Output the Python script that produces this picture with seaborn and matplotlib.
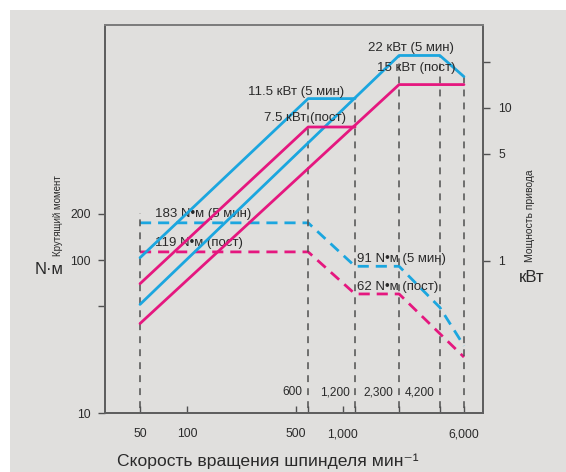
import matplotlib
matplotlib.use("Agg")
import matplotlib.pyplot as plt
import seaborn as sns
import numpy as np
import pandas as pd
from matplotlib.patches import Rectangle

# ---------------- data ----------------
# power curves (kW) vs spindle speed (min^-1)
p5_a_x = [50, 600, 1200]
p5_a_y = [1.05, 11.5, 11.5]
p5_b_x = [50, 2300, 4200, 6000]
p5_b_y = [0.52, 22, 22, 16]
pc_a_x = [50, 600, 1200]
pc_a_y = [0.71, 7.5, 7.5]
pc_b_x = [50, 2300, 6000]
pc_b_y = [0.39, 14.2, 14.2]
# torque curves (N·m)
t5_x = [50, 600, 1200, 2300, 4200, 6000]
t5_y = [175, 175, 91, 91, 49, 27.5]
tc_x = [50, 600, 1200, 2300, 6000]
tc_y = [113, 113, 60, 60, 23.2]
# vertical guide lines (speed, top in kW)
guide_x = [50, 600, 1200, 2300, 4200, 6000]
guide_top = [2.07, 11.5, 11.5, 22, 22, 16]

x_ticks = [50, 100, 500, 600, 1000, 1200, 2300, 4200, 6000]
x_ticklabels = ["50", "100", "500", "", "1,000", "", "", "", "6,000"]
inner_x = [600, 1200, 2300, 4200]
inner_labels = ["600", "1,200", "2,300", "4,200"]
yl_ticks = [10, 50, 100, 200]
yl_ticklabels = ["10", "", "100", "200"]
yr_ticks = [1, 5, 10, 20]
yr_ticklabels = ["1", "5", "10", ""]

BLUE = "#1ba6df"
MAG = "#e5177f"
GRAY = "#505050"
BG = "#e0dfdd"
TXT = "#2a2a2a"

sns.set_theme(style="white")
plt.rcParams['font.family'] = ['Liberation Sans', 'DejaVu Sans']

W, H = 566, 472
fig = plt.figure(figsize=(W / 100, H / 100), dpi=100)
fig.patch.set_facecolor("white")
fig.patches.append(Rectangle((10 / W, 0), 1 - 10 / W, (H - 10) / H,
                             transform=fig.transFigure, facecolor=BG,
                             edgecolor="none", zorder=-10))

ax = fig.add_axes([105 / W, 59 / H, (483 - 105) / W, (413 - 25) / H])
ax.set_facecolor(BG)
ax.set_xscale("log")
ax.set_yscale("log")
ax.set_xlim(29.8, 7950)
ax.set_ylim(10, 3438)

ax2 = ax.twinx()
ax2.set_yscale("log")
ax2.set_ylim(0.1015, 34.8)

# guide lines
ax2.vlines(guide_x, 0.05, guide_top, colors=GRAY, linewidth=1.1,
           linestyles=(0, (4.5, 4)), zorder=1)

# torque dashed curves
sns.lineplot(x=t5_x, y=t5_y, ax=ax, color=BLUE, linewidth=2.0,
             linestyle=(0, (4, 2.5)), estimator=None, sort=False, zorder=3)
sns.lineplot(x=tc_x, y=tc_y, ax=ax, color=MAG, linewidth=2.0,
             linestyle=(0, (4, 2.5)), estimator=None, sort=False, zorder=3)

# power solid curves
for xs, ys, c in [(p5_a_x, p5_a_y, BLUE), (p5_b_x, p5_b_y, BLUE),
                  (pc_a_x, pc_a_y, MAG), (pc_b_x, pc_b_y, MAG)]:
    sns.lineplot(x=xs, y=ys, ax=ax2, color=c, linewidth=2.0,
                 estimator=None, sort=False, zorder=3)

# ticks
ax.set_xticks(x_ticks)
ax.set_xticklabels(x_ticklabels)
ax.xaxis.set_minor_locator(matplotlib.ticker.NullLocator())
ax.set_yticks(yl_ticks)
ax.set_yticklabels(yl_ticklabels)
ax.yaxis.set_minor_locator(matplotlib.ticker.NullLocator())
ax2.set_yticks(yr_ticks)
ax2.set_yticklabels(yr_ticklabels)
ax2.yaxis.set_minor_locator(matplotlib.ticker.NullLocator())

ax.tick_params(axis="x", direction="in", length=5, width=1, color=GRAY,
               labelsize=8.8, labelcolor=TXT, pad=11, bottom=True)
ax.tick_params(axis="y", direction="out", length=5, width=1, color=GRAY,
               labelsize=8.8, labelcolor=TXT, pad=5, left=True)
ax2.tick_params(axis="y", direction="out", length=5, width=1, color=GRAY,
                labelsize=8.8, labelcolor=TXT, pad=6, right=True)

for a in (ax, ax2):
    for s in a.spines.values():
        s.set_color("#5f5f5f")
        s.set_linewidth(1.4)
    a.spines["top"].set_color("#7d7d7d")

# inner speed labels
for xv, lab in zip(inner_x, inner_labels):
    ax.annotate(lab, xy=(xv, 13.7), xytext=(-4, 0), textcoords="offset points",
                ha="right", va="center", fontsize=8.6, color=TXT)

# curve labels
fs = 9.5
ax2.text(1453, 24.5, "22 кВт (5 мин)", fontsize=fs, color=TXT, ha="left", va="center", zorder=5)
ax2.text(1660, 18.3, "15 кВт (пост)", fontsize=fs, color=TXT, ha="left", va="center", zorder=5)
ax2.text(247, 12.7, "11.5 кВт (5 мин)", fontsize=fs, color=TXT, ha="left", va="center", zorder=5)
ax2.text(314, 8.6, "7.5 кВт (пост)", fontsize=fs, color=TXT, ha="left", va="center", zorder=5)
ax.text(62.4, 200, "183 N•м (5 мин)", fontsize=fs, color=TXT, ha="left", va="center", zorder=5)
ax.text(62.4, 129, "119 N•м (пост)", fontsize=fs, color=TXT, ha="left", va="center", zorder=5)
ax.text(1230, 101, "91 N•м (5 мин)", fontsize=fs, color=TXT, ha="left", va="center", zorder=5)
ax.text(1230, 66.5, "62 N•м (пост)", fontsize=fs, color=TXT, ha="left", va="center", zorder=5)

# axis titles
fig.text(268 / W, 1 - 461 / H, "Скорость вращения шпинделя мин⁻¹", fontsize=12.6,
         color=TXT, ha="center", va="center",
         family=['Liberation Sans', 'DejaVu Sans'])
fig.text(49 / W, 1 - 270 / H, "N·м", fontsize=12, color=TXT, ha="center", va="center")
fig.text(532 / W, 1 - 278 / H, "кВт", fontsize=12, color=TXT, ha="center", va="center")
fig.text(58 / W, 1 - 216 / H, "Крутящий момент", fontsize=7, color=TXT,
         ha="center", va="center", rotation=90)
fig.text(530 / W, 1 - 216 / H, "Мощность привода", fontsize=7.5, color=TXT,
         ha="center", va="center", rotation=90)

fig.savefig("out.png", dpi=100, facecolor=fig.get_facecolor())
